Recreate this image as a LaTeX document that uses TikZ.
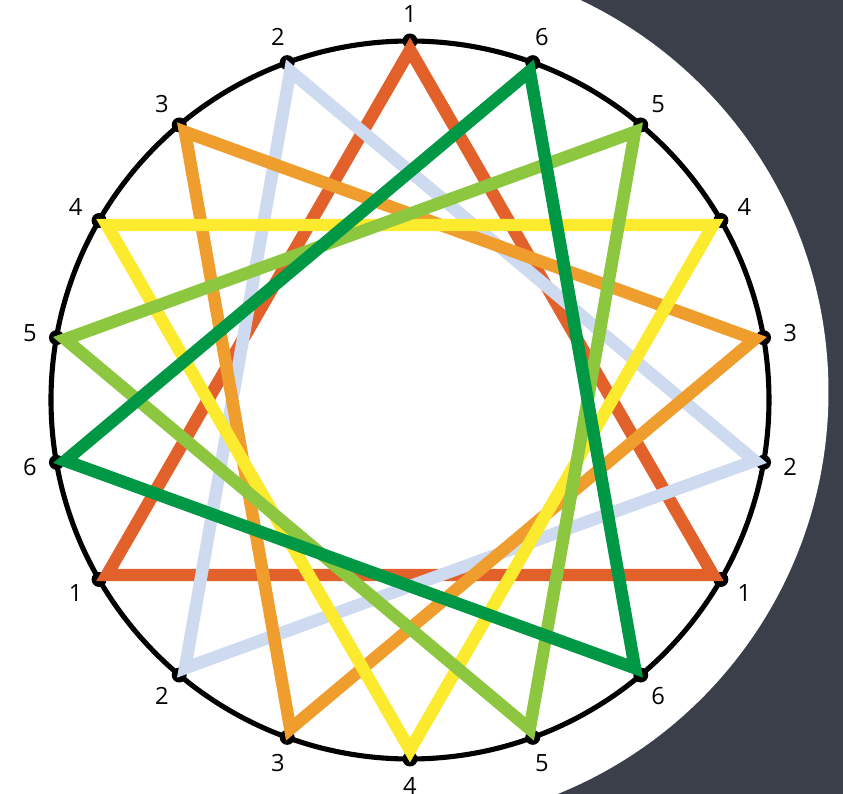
\documentclass[tikz,border=0pt]{standalone}
\usepackage{fontspec}
\setmainfont{Open Sans}
\usepackage{xcolor}
\usetikzlibrary{calc}

\definecolor{starRed}{HTML}{E2612B}
\definecolor{starBlue}{HTML}{CDDAF0}
\definecolor{starOrange}{HTML}{EF9E2E}
\definecolor{starYellow}{HTML}{FBEA2E}
\definecolor{starLime}{HTML}{8DC63F}
\definecolor{starGreen}{HTML}{009845}
\definecolor{slate}{HTML}{3A3F4A}

\begin{document}
\begin{tikzpicture}[
    x=0.02cm, y=0.02cm,
    rim/.style={draw=black, line width=2.9pt},
    pin/.style={circle, fill=black, inner sep=0pt, minimum size=0.3cm},
    num/.style={font=\fontsize{13.5}{15}\selectfont, inner sep=0pt},
    star/.style={line width=7.1pt, line join=miter}
]
    % Frame and backdrop
    \useasboundingbox (-410,-394) rectangle (433,400);
    \fill[slate] (40,-394) rectangle (433,400);
    \fill[white] (-15,8) circle (433.5);

    % Rim and points
    \draw[rim] (0,0) circle (359);
    \foreach \i in {1,...,18} {
        \node[pin] (d\i) at ({90+20*(\i-1)}:359) {};
        \coordinate (c\i) at ({90+20*(\i-1)}:350);
    }

    % Triangles
    \foreach \k/\col in {1/starRed, 2/starBlue, 3/starOrange, 4/starYellow, 5/starLime, 6/starGreen} {
        \pgfmathtruncatemacro{\kb}{\k+6}
        \pgfmathtruncatemacro{\kc}{\k+12}
        \draw[star, \col] (c\k) -- (c\kb) -- (c\kc) -- cycle;
    }

    % Labels
    \foreach \i in {1,...,18} {
        \pgfmathtruncatemacro{\lab}{mod(\i-1,6)+1}
        \node[num] (l\i) at ({90+20*(\i-1)}:386) {\lab};
    }
\end{tikzpicture}
\end{document}
